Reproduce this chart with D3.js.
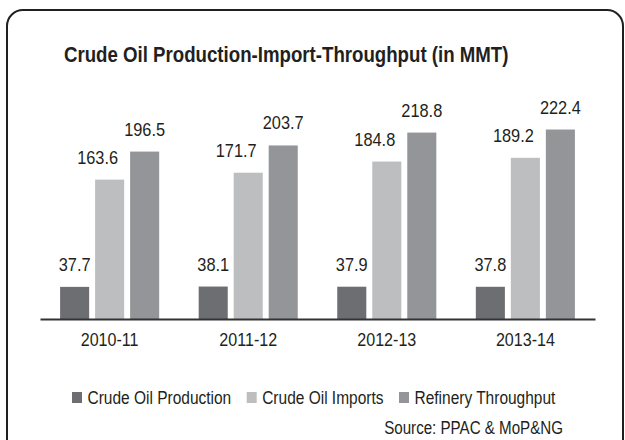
<!DOCTYPE html>
<html>
<head>
<meta charset="utf-8">
<script src="https://cdn.jsdelivr.net/npm/d3@7"></script>
<style>
  body { margin: 0; background: #fff; }
  svg text { font-family: "Liberation Sans", Arial, sans-serif; fill: #231f20; }
  .title { font-weight: bold; font-size: 21.7px; }
  .val { font-size: 19px; }
  .axis text { font-size: 18.7px; }
  .axis path { stroke: #333; stroke-width: 2; }
  .legend text { font-size: 18px; }
  .source { font-size: 17.6px; }
</style>
</head>
<body>
<svg id="chart" width="625" height="440"></svg>
<script>
// data (MMT)
const categories = ["2010-11", "2011-12", "2012-13", "2013-14"];
const seriesNames = ["Crude Oil Production", "Crude Oil Imports", "Refinery Throughput"];
const production = [37.7, 38.1, 37.9, 37.8];
const imports = [163.6, 171.7, 184.8, 189.2];
const throughput = [196.5, 203.7, 218.8, 222.4];

const colors = ["#6d6e71", "#bcbec0", "#939598"];
const labelShift = [0, -12, 0]; // value labels of imports sit a bit left
const series = [production, imports, throughput];
const squeeze = 0.86; // the original uses a condensed face

// squash text horizontally to mimic the condensed font
function condense(sel) {
  sel.each(function () {
    const w = this.getComputedTextLength();
    d3.select(this)
      .attr("textLength", w * squeeze)
      .attr("lengthAdjust", "spacingAndGlyphs")
      .property("__w", w * squeeze);
  });
}

const svg = d3.select("#chart");

// frame with rounded corners
svg.append("rect")
  .attr("x", 7).attr("y", 10)
  .attr("width", 616).attr("height", 450)
  .attr("rx", 16)
  .attr("fill", "none")
  .attr("stroke", "#231f20")
  .attr("stroke-width", 2);

svg.append("text")
  .attr("class", "title")
  .attr("x", 64).attr("y", 62)
  .text("Crude Oil Production-Import-Throughput (in MMT)")
  .call(condense);

const x0 = d3.scaleBand().domain(categories).range([40, 595])
  .paddingInner(0.285).paddingOuter(0.145);
const x1 = d3.scaleBand().domain(seriesNames).range([0, x0.bandwidth()])
  .paddingInner(0.17);
const y = d3.scaleLinear().domain([0, 250]).range([319, 106]);

const rows = [];
categories.forEach((c, i) => {
  seriesNames.forEach((s, j) => {
    rows.push({ cat: c, name: s, k: j, v: series[j][i] });
  });
});

const groups = svg.append("g");

groups.selectAll(".bar")
  .data(rows)
  .enter().append("rect")
  .attr("class", "bar")
  .attr("x", d => x0(d.cat) + x1(d.name))
  .attr("y", d => y(d.v))
  .attr("width", x1.bandwidth())
  .attr("height", d => y(0) - y(d.v))
  .attr("fill", d => colors[d.k]);

groups.selectAll(".val")
  .data(rows)
  .enter().append("text")
  .attr("class", "val")
  .attr("text-anchor", "middle")
  .attr("x", d => x0(d.cat) + x1(d.name) + x1.bandwidth() / 2 + labelShift[d.k])
  .attr("y", d => y(d.v) - 16)
  .text(d => d.v.toFixed(1))
  .call(condense);

const xAxis = d3.axisBottom(x0).tickSize(0).tickSizeOuter(0).tickPadding(14);
const gx = svg.append("g")
  .attr("class", "axis")
  .attr("transform", `translate(0,${y(0)})`)
  .call(xAxis)
  .attr("font-family", null).attr("font-size", null);
gx.selectAll("text").attr("fill", "#231f20").call(condense);

// legend
const legend = svg.append("g").attr("class", "legend");
let lx = 72;
seriesNames.forEach((s, j) => {
  legend.append("rect")
    .attr("x", lx).attr("y", 392)
    .attr("width", 10).attr("height", 11)
    .attr("fill", colors[j]);
  const t = legend.append("text")
    .attr("x", lx + 15.5).attr("y", 403.5)
    .text(s)
    .call(condense);
  lx = lx + 15.5 + t.property("__w") + 15.5;
});

svg.append("text")
  .attr("class", "source")
  .attr("text-anchor", "end")
  .attr("x", 563).attr("y", 434)
  .text("Source: PPAC & MoP&NG")
  .call(condense);
</script>
</body>
</html>
